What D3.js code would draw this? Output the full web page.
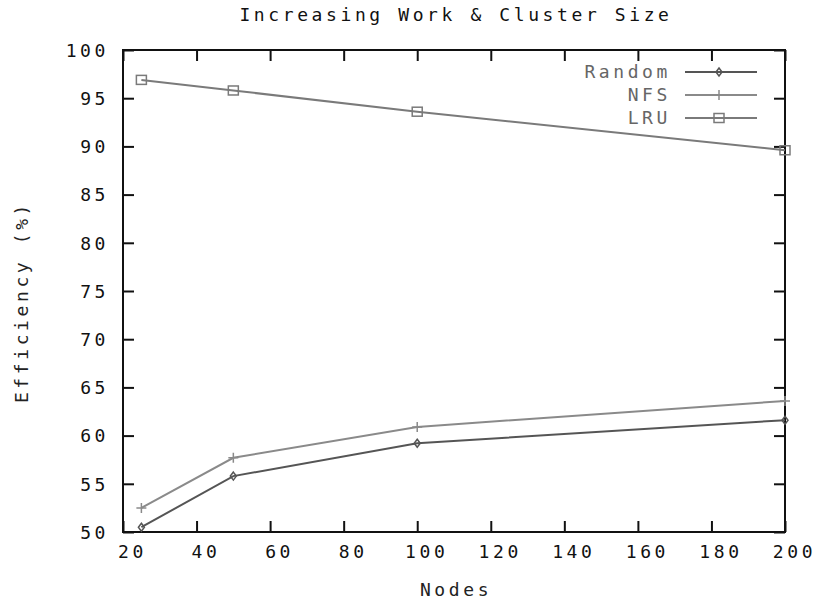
<!DOCTYPE html>
<html>
<head>
<meta charset="utf-8">
<script src="https://cdn.jsdelivr.net/npm/d3@7"></script>
<style>
  body { margin: 0; background: #fff; }
  svg text { font-family: "DejaVu Sans Mono", monospace; font-size: 18px; letter-spacing: 3.6px; }
</style>
</head>
<body>
<svg id="chart" width="816" height="604"></svg>
<script>
const nodes = [25, 50, 100, 200];
const randomEff = [50.5, 55.8, 59.2, 61.6];
const nfsEff = [52.5, 57.7, 60.9, 63.6];
const lruEff = [96.9, 95.8, 93.6, 89.6];
const seriesNames = ["Random", "NFS", "LRU"];
const xTicks = [20, 40, 60, 80, 100, 120, 140, 160, 180, 200];
const yTicks = [50, 55, 60, 65, 70, 75, 80, 85, 90, 95, 100];

const svg = d3.select("#chart");
const L = 123, R = 785, T = 50, B = 532;
const x = d3.scaleLinear().domain([20, 200]).range([L, R]);
const y = d3.scaleLinear().domain([50, 100]).range([B, T]);

const series = [
  { name: seriesNames[0], values: randomEff, color: "#555", marker: "diamond" },
  { name: seriesNames[1], values: nfsEff, color: "#8a8a8a", marker: "plus" },
  { name: seriesNames[2], values: lruEff, color: "#7a7a7a", marker: "square" }
];

const tickLen = 11;
const xb = svg.append("g").attr("transform", `translate(0,${B})`)
  .call(d3.axisBottom(x).tickValues(xTicks).tickSize(-tickLen).tickPadding(13));
const xt = svg.append("g").attr("transform", `translate(0,${T})`)
  .call(d3.axisTop(x).tickValues(xTicks).tickSize(-tickLen).tickFormat(""));
const yl = svg.append("g").attr("transform", `translate(${L},0)`)
  .call(d3.axisLeft(y).tickValues(yTicks).tickSize(-tickLen).tickPadding(14));
const yr = svg.append("g").attr("transform", `translate(${R},0)`)
  .call(d3.axisRight(y).tickValues(yTicks).tickSize(-tickLen).tickFormat(""));
[xb, xt, yl, yr].forEach(g => {
  g.select(".domain").remove();
  g.selectAll(".tick line").attr("stroke", "#111").attr("stroke-width", 2);
  g.selectAll("text").attr("fill", "#111").style("font-size", "18px");
});
xb.selectAll("text").attr("dx", 9);
yl.selectAll("text").attr("dy", "0.35em");

svg.append("rect").attr("x", L).attr("y", T).attr("width", R - L).attr("height", B - T)
  .attr("fill", "none").attr("stroke", "#111").attr("stroke-width", 2);

function drawMarker(g, type, cx, cy, color) {
  if (type === "diamond") {
    g.append("path").attr("d", `M${cx},${cy-4}L${cx+3},${cy}L${cx},${cy+4}L${cx-3},${cy}Z`)
      .attr("fill", "none").attr("stroke", color).attr("stroke-width", 1.5);
  } else if (type === "plus") {
    g.append("path").attr("d", `M${cx-5},${cy}H${cx+5}M${cx},${cy-5}V${cy+5}`)
      .attr("fill", "none").attr("stroke", color).attr("stroke-width", 1.5);
  } else {
    g.append("rect").attr("x", cx - 5).attr("y", cy - 4.5).attr("width", 10).attr("height", 9)
      .attr("fill", "none").attr("stroke", color).attr("stroke-width", 1.5);
  }
}

const line = d3.line().x(d => x(d[0])).y(d => y(d[1]));
series.forEach(s => {
  const pts = nodes.map((n, i) => [n, s.values[i]]);
  const g = svg.append("g");
  g.append("path").attr("d", line(pts)).attr("fill", "none")
    .attr("stroke", s.color).attr("stroke-width", 2);
  pts.forEach(p => drawMarker(g, s.marker, x(p[0]), y(p[1]), s.color));
});

const legY = [72, 95, 118];
series.forEach((s, i) => {
  const g = svg.append("g");
  g.append("text").attr("x", 671).attr("y", legY[i]).attr("dy", "0.35em")
    .attr("text-anchor", "end").attr("fill", "#666").text(s.name);
  g.append("line").attr("x1", 685).attr("x2", 757).attr("y1", legY[i]).attr("y2", legY[i])
    .attr("stroke", s.color).attr("stroke-width", 2);
  drawMarker(g, s.marker, 719, legY[i], s.color);
});

svg.append("text").attr("x", 456).attr("y", 21).attr("text-anchor", "middle")
  .attr("fill", "#111").text("Increasing Work & Cluster Size");
svg.append("text").attr("x", 456).attr("y", 596).attr("text-anchor", "middle")
  .attr("fill", "#222").text("Nodes");
svg.append("text").attr("transform", "translate(28,302) rotate(-90)").attr("text-anchor", "middle")
  .attr("fill", "#222").text("Efficiency (%)");
</script>
</body>
</html>
